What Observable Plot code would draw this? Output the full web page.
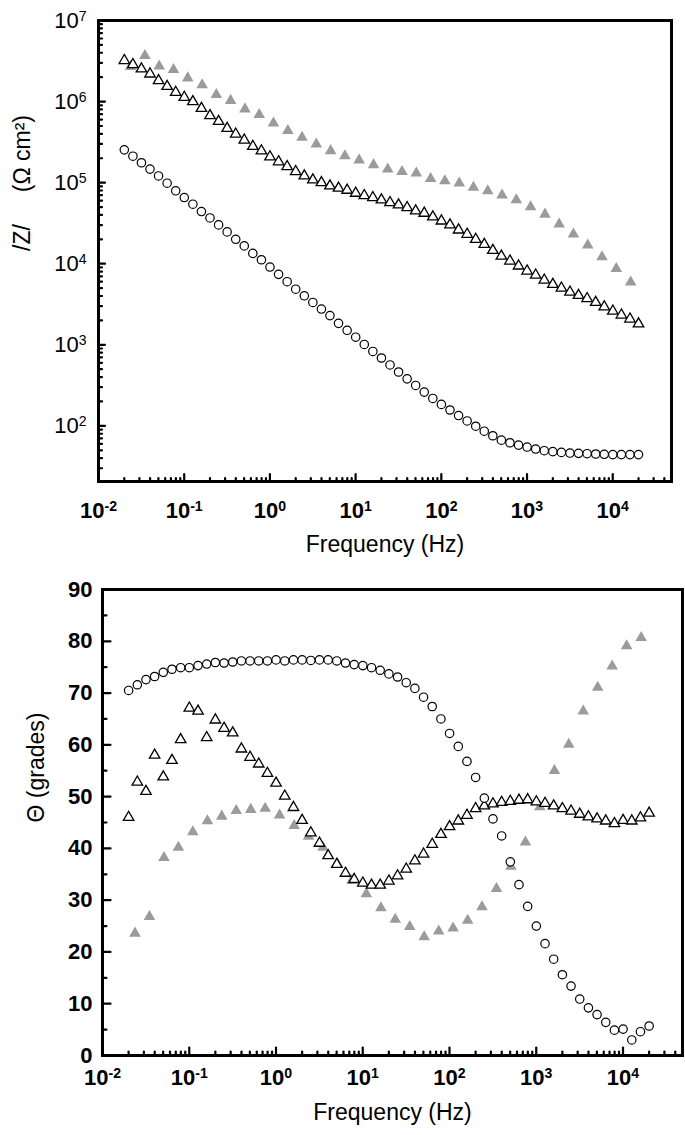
<!DOCTYPE html>
<html>
<head>
<meta charset="utf-8">
<script src="https://cdn.jsdelivr.net/npm/d3@7"></script>
<script src="https://cdn.jsdelivr.net/npm/@observablehq/plot@0.6"></script>
<style>
  html, body { margin: 0; padding: 0; background: #fff; }
  #chart { width: 685px; }
  #chart svg { display: block; }
</style>
</head>
<body>
<div id="chart"></div>
<script>
// ---------- DATA ----------
// Frequencies (Hz): dense sweep (open circles and open triangles)
const freqDense = [
  0.02, 0.0252, 0.0317, 0.0399, 0.0502, 0.0632, 0.0796, 0.1002, 0.1262, 0.1589,
  0.2, 0.252, 0.317, 0.399, 0.502, 0.632, 0.796, 1.002, 1.262, 1.589,
  2.0, 2.52, 3.17, 3.99, 5.02, 6.32, 7.96, 10.02, 12.62, 15.89,
  20.0, 25.2, 31.7, 39.9, 50.2, 63.2, 79.6, 100.2, 126.2, 158.9,
  200, 252, 317, 399, 502, 632, 796, 1002, 1262, 1589,
  2000, 2518, 3170, 3991, 5024, 6325, 7962, 10024, 12619, 15887, 20000
];
// Frequencies (Hz): sparse sweep (filled grey triangles)
const freqSparse = [
  0.0237, 0.0348, 0.0511, 0.075, 0.110, 0.162, 0.237, 0.348, 0.511, 0.750,
  1.10, 1.62, 2.37, 3.48, 5.11, 7.50, 11.0, 16.2, 23.7, 34.8,
  51.1, 75.0, 110, 162, 237, 348, 511, 750, 1100, 1620,
  2370, 3480, 5110, 7500, 11000, 16200
];

// |Z| (Ohm cm2)
const zCircle = [
  254000, 212000, 176000, 147000, 121000, 98400, 79300, 65500, 54200, 44000,
  36700, 30100, 24700, 20000, 16600, 13400, 11200, 9100, 7400, 6000,
  4850, 4020, 3330, 2760, 2290, 1840, 1510, 1240, 1010, 828,
  687, 564, 462, 380, 315, 261, 218, 184, 157, 134,
  115, 99, 86, 75.5, 66.7, 61.9, 57.9, 54.8, 51.8, 49.4,
  48.1, 47.1, 46.2, 45.8, 45.4, 45.0, 44.6, 44.2, 44.2, 44.2, 44.2
];
const zOpenTri = [
  3210000, 2860000, 2530000, 2190000, 1810000, 1540000, 1300000, 1130000, 998000, 824000,
  670000, 570000, 467000, 397000, 335000, 280000, 247000, 208000, 181000, 158000,
  137000, 121000, 108000, 100000, 91200, 85500, 80700, 74100, 69300, 65500,
  61200, 56800, 53200, 49300, 44800, 42000, 37800, 33700, 30100, 26100,
  23100, 20000, 17300, 14600, 12400, 10800, 9380, 8130, 7240, 6280,
  5560, 5010, 4470, 4070, 3720, 3330, 2940, 2610, 2330, 2080, 1810
];
const zFilledTri = [
  2700000, 3690000, 2730000, 2480000, 1950000, 1600000, 1220000, 1030000, 809000, 689000,
  543000, 437000, 361000, 299000, 247000, 214000, 190000, 166000, 147000, 137000,
  131000, 112000, 105000, 98400, 87100, 79300, 70000, 61200, 50200, 40700,
  30700, 23100, 16900, 12100, 8690, 5940
];

// Phase angle (grades)
const phaseCircle = [
  70.5, 71.6, 72.6, 73.2, 74.0, 74.6, 74.9, 74.9, 75.3, 75.6,
  75.9, 75.8, 76.0, 76.2, 76.2, 76.2, 76.2, 76.4, 76.2, 76.4,
  76.4, 76.3, 76.4, 76.4, 76.2, 75.8, 75.5, 75.3, 74.9, 74.4,
  73.7, 73.1, 72.0, 70.9, 69.2, 67.4, 65.0, 62.2, 59.7, 56.8,
  53.7, 49.7, 45.7, 42.4, 37.4, 33.0, 28.8, 25.0, 21.6, 18.6,
  15.6, 13.4, 10.9, 9.2, 7.9, 6.4, 4.9, 5.1, 3.0, 4.6, 5.7
];
const phaseOpenTri = [
  46.0, 52.8, 51.0, 58.0, 53.8, 57.0, 61.0, 67.1, 66.5, 61.4,
  64.8, 63.2, 62.3, 59.2, 57.6, 56.3, 54.5, 52.6, 50.1, 47.9,
  45.4, 43.0, 41.0, 38.6, 36.9, 35.2, 34.0, 33.3, 32.9, 32.9,
  33.7, 34.7, 36.0, 37.6, 38.9, 40.8, 42.7, 44.2, 45.3, 46.4,
  47.7, 48.2, 48.6, 48.9, 49.1, 49.3, 49.4, 49.0, 48.7, 48.2,
  47.7, 47.2, 46.6, 46.1, 45.7, 45.3, 44.8, 45.4, 45.3, 45.9, 46.8
];
const phaseFilledTri = [
  23.6, 26.8, 38.2, 40.2, 43.2, 45.3, 46.2, 47.3, 47.5, 47.7,
  46.4, 44.4, 42.3, 40.2, 37.0, 33.8, 31.2, 28.5, 26.3, 24.9,
  22.9, 24.0, 24.6, 26.1, 28.7, 32.2, 36.5, 41.2, 48.0, 55.0,
  60.1, 66.5, 71.1, 75.2, 79.1, 80.7
];

// Tick values and texts
const xTicks = [0.01, 0.1, 1, 10, 100, 1000, 10000];
const yTicksTop = [1e2, 1e3, 1e4, 1e5, 1e6, 1e7];
const yTicksBottom = [0, 10, 20, 30, 40, 50, 60, 70, 80, 90];
const yMinorBottom = [5, 15, 25, 35, 45, 55, 65, 75, 85];
const xTitle = "Frequency (Hz)";
const zTitle = "/Z/\u00a0\u00a0\u00a0\u00a0\u00a0(\u03A9 cm\u00B2)";
const pTitle = "\u0398\u00a0(grades)";

// ---------- BUILD ----------
const FONT = "'Liberation Sans', Arial, Helvetica, sans-serif";
const dense = freqDense.map((f, i) => ({f, z1: zCircle[i], z2: zOpenTri[i], p1: phaseCircle[i], p2: phaseOpenTri[i]}));
const sparse = freqSparse.map((f, i) => ({f, z: zFilledTri[i], p: phaseFilledTri[i]}));

function minorLog(lo, hi) {
  const out = [];
  for (let e = Math.floor(Math.log10(lo)); e <= Math.ceil(Math.log10(hi)); e++)
    for (let k = 2; k <= 9; k++) { const v = k * Math.pow(10, e); if (v > lo && v < hi) out.push(v); }
  return out;
}
const xMinor = minorLog(0.01, 48500);
const yMinorTop = minorLog(20.6, 1e7);

const tickShape = {draw(context, l) { context.moveTo(0, 0); context.lineTo(0, -l); }};
const ticksBottom = (values, len) => Plot.vector(values, {x: d => d, frameAnchor: "bottom", length: len, rotate: 0, anchor: "start", shape: tickShape, stroke: "black", strokeWidth: 2.2});
const ticksLeft = (values, len) => Plot.vector(values, {y: d => d, frameAnchor: "left", length: len, rotate: 90, anchor: "start", shape: tickShape, stroke: "black", strokeWidth: 2.2});
const expLabel = d => "10^" + Math.round(Math.log10(d));

const GREY = "#9b9b9b";

const topPlot = Plot.plot({
  width: 685, height: 570,
  marginLeft: 98, marginRight: 14, marginTop: 20, marginBottom: 89,
  style: {fontFamily: FONT, background: "white", color: "black", overflow: "visible"},
  x: {type: "log", domain: [0.01, 48500]},
  y: {type: "log", domain: [20.6, 1e7]},
  marks: [
    Plot.dot(sparse, {x: "f", y: "z", symbol: "triangle", r: 4.3, fill: GREY, stroke: "none"}),
    Plot.dot(dense, {x: "f", y: "z2", symbol: "triangle", r: 3.9, fill: "white", stroke: "black", strokeWidth: 1.3}),
    Plot.dot(dense, {x: "f", y: "z1", r: 4.2, fill: "white", stroke: "black", strokeWidth: 1.2}),
    ticksBottom(xTicks, 7.5), ticksBottom(xMinor, 3.5),
    ticksLeft(yTicksTop, 6.5), ticksLeft(yMinorTop, 3.5),
    Plot.axisX(xTicks, {tickSize: 0, tickPadding: 21, fontSize: 22, fontWeight: "bold", tickFormat: expLabel, label: null}),
    Plot.axisY(yTicksTop, {tickSize: 0, tickPadding: 12, fontSize: 22, tickFormat: expLabel, label: null}),
    Plot.frame({stroke: "black", strokeWidth: 3}),
    Plot.text([zTitle], {text: d => d, frameAnchor: "left", dx: -76, rotate: -90, fontSize: 23}),
    Plot.text([xTitle], {text: d => d, frameAnchor: "bottom", dy: 70, fontSize: 23})
  ]
});

const bottomPlot = Plot.plot({
  width: 685, height: 565,
  marginLeft: 102, marginRight: 3, marginTop: 19, marginBottom: 80,
  style: {fontFamily: FONT, background: "white", color: "black", overflow: "visible"},
  x: {type: "log", domain: [0.01, 48500]},
  y: {domain: [0, 90]},
  marks: [
    Plot.dot(sparse, {x: "f", y: "p", symbol: "triangle", r: 4.3, fill: GREY, stroke: "none"}),
    Plot.dot(dense, {x: "f", y: "p2", symbol: "triangle", r: 3.9, fill: "white", stroke: "black", strokeWidth: 1.3}),
    Plot.dot(dense, {x: "f", y: "p1", r: 4.2, fill: "white", stroke: "black", strokeWidth: 1.2}),
    ticksBottom(xTicks, 8), ticksBottom(xMinor, 4),
    ticksLeft(yTicksBottom, 8), ticksLeft(yMinorBottom, 4),
    Plot.axisX(xTicks, {tickSize: 0, tickPadding: 14, fontSize: 22, fontWeight: "bold", tickFormat: expLabel, label: null}),
    Plot.axisY(yTicksBottom, {tickSize: 0, tickPadding: 10, fontSize: 22, fontWeight: "bold", label: null}),
    Plot.frame({stroke: "black", strokeWidth: 3}),
    Plot.text([pTitle], {text: d => d, frameAnchor: "left", dx: -66, rotate: -90, fontSize: 23}),
    Plot.text([xTitle], {text: d => d, frameAnchor: "bottom", dy: 64, fontSize: 23})
  ]
});

// Turn "10^k" tick texts into real superscripts
function superscripts(svg) {
  const ns = "http://www.w3.org/2000/svg";
  svg.querySelectorAll("text").forEach(t => {
    const m = /^10\^(-?\d+)$/.exec(t.textContent);
    if (!m) return;
    t.textContent = "";
    const base = document.createElementNS(ns, "tspan");
    base.textContent = "10";
    const ex = document.createElementNS(ns, "tspan");
    ex.textContent = m[1];
    ex.setAttribute("dy", "-0.5em");
    ex.setAttribute("font-size", "0.64em");
    t.append(base, ex);
  });
}
superscripts(topPlot);
superscripts(bottomPlot);

const chart = document.getElementById("chart");
chart.append(topPlot, bottomPlot);
</script>
</body>
</html>
